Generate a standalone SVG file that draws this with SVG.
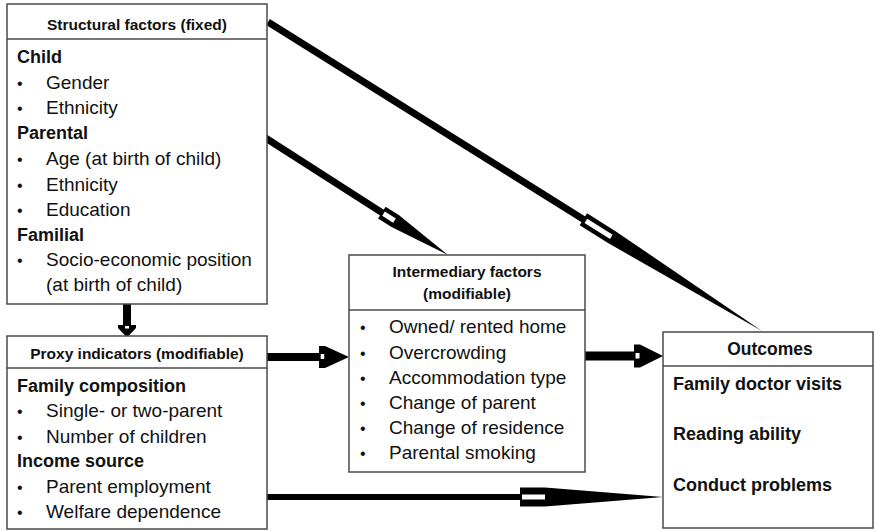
<svg xmlns="http://www.w3.org/2000/svg" width="875" height="531" viewBox="0 0 875 531">
<style>
.box{fill:#fff;stroke:#4a4a4a;stroke-width:1.5}
.div{stroke:#4a4a4a;stroke-width:1.5}
text{font-family:"Liberation Sans",Arial,sans-serif;fill:#111}
.hd{font-weight:bold;font-size:15.5px;text-anchor:middle}
.hdo{font-weight:bold;font-size:17.5px;text-anchor:middle}
.sub{font-weight:bold;font-size:18px}
.it{font-size:19px}
.bl{font-size:16px}
.blk{fill:#000}
.notch{fill:#fff}
</style>
<rect width="875" height="531" fill="#fff"/>
<g id="connectors">
  <g id="arrow-structural-outcomes" transform="translate(268,22) rotate(32.03)">
    <rect class="blk" x="0" y="-3.5" width="374" height="7"/>
    <polygon class="blk" points="372,-7 406,-7 582.7,0 406,7 372,7"/>
    <rect class="notch" x="375" y="-2.5" width="30" height="5"/>
  </g>
  <g id="arrow-structural-intermediary" transform="translate(264,137) rotate(32.67)">
    <rect class="blk" x="0" y="-3.5" width="142" height="7"/>
    <polygon class="blk" points="140,-7 156,-7 218.6,0 156,7 140,7"/>
    <rect class="notch" x="142" y="-2.5" width="13" height="5"/>
  </g>
  <g id="arrow-structural-proxy" transform="translate(127,304) rotate(90)">
    <rect class="blk" x="0" y="-4" width="22" height="8"/>
    <polygon class="blk" points="21,-9 24,-9 33.5,0 24,9 21,9"/>
    <rect class="notch" x="22" y="-2" width="2.5" height="4"/>
  </g>
  <g id="arrow-proxy-intermediary" transform="translate(267,357)">
    <rect class="blk" x="0" y="-4" width="54" height="8"/>
    <polygon class="blk" points="52,-11 58,-11 82,0 58,11 52,11"/>
    <rect class="notch" x="53.7" y="-3" width="3.5" height="5"/>
  </g>
  <g id="arrow-intermediary-outcomes" transform="translate(585,356)">
    <rect class="blk" x="0" y="-4.5" width="51" height="9"/>
    <polygon class="blk" points="49,-11.5 55,-11.5 78,0 55,11.5 49,11.5"/>
    <rect class="notch" x="50.5" y="-3" width="4" height="5.5"/>
  </g>
  <g id="arrow-proxy-outcomes" transform="translate(267,497)">
    <rect class="blk" x="0" y="-3" width="255" height="6"/>
    <polygon class="blk" points="253,-9.5 278,-9.5 396,0 278,9.5 253,9.5"/>
    <rect class="notch" x="255" y="-2.5" width="23" height="5"/>
  </g>
</g>
<g id="structural">
  <rect class="box" x="7" y="4" width="260" height="300"/>
  <line class="div" x1="7" y1="39" x2="267" y2="39"/>
  <text class="hd" x="137" y="30">Structural factors (fixed)</text>
  <text class="sub" x="17" y="63">Child</text>
  <text class="bl" x="17" y="89">•</text><text class="it" x="46" y="89">Gender</text>
  <text class="bl" x="17" y="114">•</text><text class="it" x="46" y="114">Ethnicity</text>
  <text class="sub" x="17" y="139">Parental</text>
  <text class="bl" x="17" y="165">•</text><text class="it" x="46" y="165">Age (at birth of child)</text>
  <text class="bl" x="17" y="191">•</text><text class="it" x="46" y="191">Ethnicity</text>
  <text class="bl" x="17" y="216">•</text><text class="it" x="46" y="216">Education</text>
  <text class="sub" x="17" y="241">Familial</text>
  <text class="bl" x="17" y="266">•</text><text class="it" x="46" y="266">Socio-economic position</text>
  <text class="it" x="46" y="291">(at birth of child)</text>
</g>
<g id="proxy">
  <rect class="box" x="7" y="336" width="260" height="193"/>
  <line class="div" x1="7" y1="368" x2="267" y2="368"/>
  <text class="hd" x="137" y="359">Proxy indicators (modifiable)</text>
  <text class="sub" x="17" y="392">Family composition</text>
  <text class="bl" x="17" y="417">•</text><text class="it" x="46" y="417">Single- or two-parent</text>
  <text class="bl" x="17" y="443">•</text><text class="it" x="46" y="443">Number of children</text>
  <text class="sub" x="17" y="467">Income source</text>
  <text class="bl" x="17" y="493">•</text><text class="it" x="46" y="493">Parent employment</text>
  <text class="bl" x="17" y="518">•</text><text class="it" x="46" y="518">Welfare dependence</text>
</g>
<g id="intermediary">
  <rect class="box" x="349" y="255" width="236" height="217"/>
  <line class="div" x1="349" y1="310" x2="585" y2="310"/>
  <text class="hd" x="467" y="277">Intermediary factors</text>
  <text class="hd" x="467" y="299">(modifiable)</text>
  <text class="bl" x="360" y="333">•</text><text class="it" x="389" y="333">Owned/ rented home</text>
  <text class="bl" x="360" y="359">•</text><text class="it" x="389" y="359">Overcrowding</text>
  <text class="bl" x="360" y="384">•</text><text class="it" x="389" y="384">Accommodation type</text>
  <text class="bl" x="360" y="409">•</text><text class="it" x="389" y="409">Change of parent</text>
  <text class="bl" x="360" y="434">•</text><text class="it" x="389" y="434">Change of residence</text>
  <text class="bl" x="360" y="459">•</text><text class="it" x="389" y="459">Parental smoking</text>
</g>
<g id="outcomes">
  <rect class="box" x="663" y="332" width="210" height="196"/>
  <line class="div" x1="663" y1="366" x2="873" y2="366"/>
  <text class="hdo" x="770" y="355">Outcomes</text>
  <text class="sub" x="673" y="390">Family doctor visits</text>
  <text class="sub" x="673" y="440">Reading ability</text>
  <text class="sub" x="673" y="491">Conduct problems</text>
</g>
</svg>
